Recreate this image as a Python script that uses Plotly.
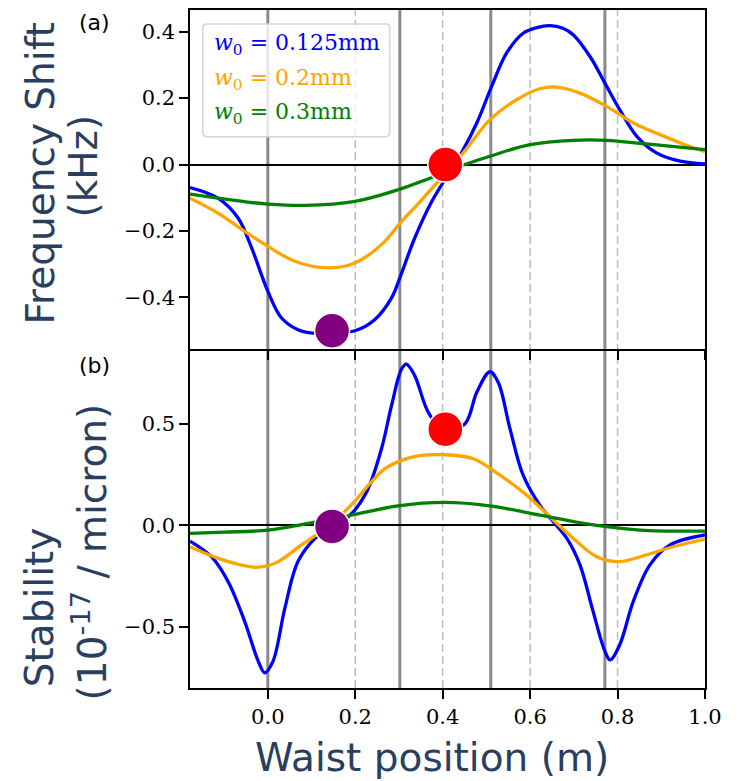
import plotly.graph_objects as go
from plotly.subplots import make_subplots

# ---- (a) frequency shift (kHz) vs waist position (m) ----
freq_x_0125 = [-0.178, -0.114, -0.068, -0.037, 0.0, 0.031, 0.069, 0.103,
               0.147, 0.199, 0.245, 0.283, 0.302, 0.336, 0.375, 0.443, 0.478,
               0.512, 0.546, 0.584, 0.615, 0.645, 0.675, 0.699, 0.737, 0.771, 0.805,
               0.844, 0.889, 0.943, 1.0]
freq_y_0125 = [-0.069, -0.101, -0.161, -0.251, -0.381, -0.461, -0.497, -0.507,
               -0.505, -0.500, -0.466, -0.401, -0.341, -0.221, -0.111, 0.035, 0.125,
               0.235, 0.335, 0.395, 0.412, 0.418, 0.410, 0.390, 0.325, 0.245, 0.165,
               0.085, 0.035, 0.010, 0.002]

freq_x_02 = [-0.178, -0.114, -0.053, 0.0, 0.062, 0.138, 0.199, 0.26, 0.306, 0.352,
             0.447, 0.508, 0.569, 0.622, 0.661, 0.714, 0.775, 0.836, 0.897, 0.95, 1.0]
freq_y_02 = [-0.101, -0.146, -0.201, -0.246, -0.291, -0.311, -0.296, -0.241, -0.171, -0.106,
             0.035, 0.135, 0.195, 0.228, 0.233, 0.215, 0.175, 0.125, 0.090, 0.062, 0.039]

freq_x_03 = [-0.178, -0.114, -0.05, 0.0, 0.085, 0.199, 0.298, 0.371, 0.451, 0.508, 0.6,
             0.699, 0.775, 0.866, 1.0]
freq_y_03 = [-0.089, -0.101, -0.112, -0.119, -0.123, -0.111, -0.076, -0.041, 0.0, 0.025, 0.060,
             0.073, 0.073, 0.062, 0.045]

# ---- (b) stability (1e-17 / micron) vs waist position (m) ----
stab_x_0125 = [-0.178, -0.129, -0.091, -0.053, -0.022, -0.007, 0.012, 0.039, 0.069, 0.108,
               0.147, 0.188, 0.226, 0.26, 0.283, 0.306, 0.317, 0.336, 0.367, 0.405,
               0.451, 0.478, 0.508, 0.527, 0.554, 0.584, 0.622, 0.653, 0.684, 0.714,
               0.744, 0.771, 0.783, 0.805, 0.836, 0.874, 0.92, 1.0]
stab_y_0125 = [-0.077, -0.154, -0.276, -0.472, -0.668, -0.725, -0.668, -0.407, -0.178, -0.064,
               -0.005, 0.050, 0.165, 0.377, 0.590, 0.770, 0.794, 0.737, 0.557, 0.460,
               0.500, 0.655, 0.756, 0.704, 0.475, 0.247, 0.100, 0.018, -0.064, -0.194,
               -0.423, -0.619, -0.662, -0.587, -0.374, -0.194, -0.096, -0.047]

stab_x_02 = [-0.178, -0.114, -0.06, -0.03, 0.0, 0.024, 0.077, 0.147, 0.199, 0.237, 0.268,
             0.306, 0.344, 0.401, 0.47, 0.531, 0.592, 0.645, 0.699, 0.752, 0.805, 0.866,
             0.927, 1.0]
stab_y_02 = [-0.105, -0.162, -0.195, -0.206, -0.198, -0.178, -0.096, 0.010, 0.120, 0.214, 0.279,
             0.320, 0.342, 0.348, 0.328, 0.247, 0.149, 0.043, -0.064, -0.154, -0.178, -0.145,
             -0.105, -0.067]

stab_x_03 = [-0.178, -0.1, 0.0, 0.104, 0.19, 0.298, 0.405, 0.508, 0.622, 0.737, 0.851, 1.0]
stab_y_03 = [-0.039, -0.033, -0.023, 0.015, 0.050, 0.096, 0.113, 0.096, 0.051, 0.005, -0.023, -0.028]

# highlighted operating points
point_x = [0.147, 0.406]
point_freq = [-0.5, 0.0]
point_stab = [-0.005, 0.473]
point_colors = ["#800080", "#ff0000"]

# reference positions along the cavity
solid_marks = [0.0, 0.302, 0.51, 0.771]
dashed_marks = [0.2, 0.4, 0.6, 0.8]

series_names = ["w0 = 0.125mm", "w0 = 0.2mm", "w0 = 0.3mm"]
series_labels = ["<i>w</i><sub>0</sub> = 0.125mm", "<i>w</i><sub>0</sub> = 0.2mm",
                 "<i>w</i><sub>0</sub> = 0.3mm"]
series_colors = ["#0000ff", "#ffa500", "#008000"]

fig = make_subplots(rows=2, cols=1, shared_xaxes=True, vertical_spacing=0)

top = [(freq_x_0125, freq_y_0125), (freq_x_02, freq_y_02), (freq_x_03, freq_y_03)]
bottom = [(stab_x_0125, stab_y_0125), (stab_x_02, stab_y_02), (stab_x_03, stab_y_03)]

for (xs, ys), name, col in zip(top, series_names, series_colors):
    fig.add_trace(go.Scatter(x=xs, y=ys, mode="lines", name=name, showlegend=False,
                             line=dict(color=col, width=3.3, shape="spline", smoothing=1.0)),
                  row=1, col=1)
for (xs, ys), name, col in zip(bottom, series_names, series_colors):
    fig.add_trace(go.Scatter(x=xs, y=ys, mode="lines", name=name, showlegend=False,
                             line=dict(color=col, width=3.3, shape="spline", smoothing=1.0)),
                  row=2, col=1)

for px, fy, sy, c in zip(point_x, point_freq, point_stab, point_colors):
    fig.add_trace(go.Scatter(x=[px], y=[fy], mode="markers", showlegend=False,
                             marker=dict(size=35, color=c, line=dict(color="white", width=1.5))),
                  row=1, col=1)
    fig.add_trace(go.Scatter(x=[px], y=[sy], mode="markers", showlegend=False,
                             marker=dict(size=35, color=c, line=dict(color="white", width=1.5))),
                  row=2, col=1)

shapes = []
for xv in solid_marks:
    shapes.append(dict(type="line", xref="x", yref="paper", x0=xv, x1=xv, y0=0, y1=1,
                       line=dict(color="#8a8a8a", width=3), layer="between"))
for xv in dashed_marks:
    shapes.append(dict(type="line", xref="x", yref="paper", x0=xv, x1=xv, y0=0, y1=1,
                       line=dict(color="#bdbdbd", width=1.5, dash="8px,4px"), layer="between"))

# legend frame with rounded corners (data coords of panel a)
lx0, lx1, ly0, ly1 = -0.149, 0.279, 0.084, 0.423
rx, ry = 0.010, 0.013
path = (f"M {lx0+rx},{ly1} L {lx1-rx},{ly1} Q {lx1},{ly1} {lx1},{ly1-ry} "
        f"L {lx1},{ly0+ry} Q {lx1},{ly0} {lx1-rx},{ly0} L {lx0+rx},{ly0} "
        f"Q {lx0},{ly0} {lx0},{ly0+ry} L {lx0},{ly1-ry} Q {lx0},{ly1} {lx0+rx},{ly1} Z")
shapes.append(dict(type="path", xref="x", yref="y", path=path,
                   fillcolor="rgba(255,255,255,0.8)", line=dict(color="#d4d4d4", width=1.5),
                   layer="above"))

annotations = []
legend_y = [0.360, 0.255, 0.153]
for lbl, col, yv in zip(series_labels, series_colors, legend_y):
    annotations.append(dict(x=-0.127, y=yv, xref="x", yref="y", text=lbl, showarrow=False,
                            xanchor="left", yanchor="middle",
                            font=dict(family="DejaVu Serif", size=22, color=col)))

W, H = 739, 781
ML, MR, MT, MB = 190, 34, 8, 93
PW, PH = W - ML - MR, H - MT - MB


def px_to_paper(px, py):
    return (px - ML) / PW, (H - MB - py) / PH


title_font = dict(family="DejaVu Sans", size=39, color="#2a3f5f")
for text, cx, cy in [("Frequency Shift", 41, 172), ("(kHz)", 84, 165),
                     ("Stability", 39, 607), ("(10<sup>-17</sup> / micron)", 90, 552)]:
    ax, ay = px_to_paper(cx, cy)
    annotations.append(dict(x=ax, y=ay, xref="paper", yref="paper", text=text, showarrow=False,
                            textangle=-90, xanchor="center", yanchor="middle", font=title_font))

ax, ay = px_to_paper(432, 758)
annotations.append(dict(x=ax, y=ay, xref="paper", yref="paper", text="Waist position (m)",
                        showarrow=False, xanchor="center", yanchor="middle", font=title_font))

for text, cx, cy in [("(a)", 94, 21), ("(b)", 94, 365)]:
    ax, ay = px_to_paper(cx, cy)
    annotations.append(dict(x=ax, y=ay, xref="paper", yref="paper", text=text, showarrow=False,
                            xanchor="center", yanchor="middle",
                            font=dict(family="DejaVu Sans", size=22, color="black")))

axis_common = dict(showline=True, linecolor="black", linewidth=1.5,
                   ticks="outside", ticklen=9, tickwidth=1.5, tickcolor="black",
                   showgrid=False, tickfont=dict(family="DejaVu Serif", size=21, color="black"))

fig.update_xaxes(range=[-0.178, 1.0], tickvals=[0.0, 0.2, 0.4, 0.6, 0.8, 1.0],
                 tickformat=".1f", zeroline=False, **axis_common)
fig.update_xaxes(showticklabels=False, mirror=True, row=1, col=1)
fig.update_xaxes(mirror=False, row=2, col=1)
fig.update_yaxes(zeroline=True, zerolinecolor="black", zerolinewidth=1.5, tickformat=".1f",
                 mirror=True, **axis_common)
fig.update_yaxes(range=[-0.555, 0.465], tickvals=[-0.4, -0.2, 0.0, 0.2, 0.4], row=1, col=1)
fig.update_yaxes(range=[-0.80, 0.868], tickvals=[-0.5, 0.0, 0.5], row=2, col=1)

fig.update_layout(width=W, height=H, margin=dict(l=ML, r=MR, t=MT, b=MB),
                  paper_bgcolor="white", plot_bgcolor="white",
                  shapes=shapes, annotations=annotations, showlegend=False)
fig.layout.yaxis.domain = [0.5, 1.0]
fig.layout.yaxis2.domain = [0.0, 0.5]

fig.write_html("out.html")
